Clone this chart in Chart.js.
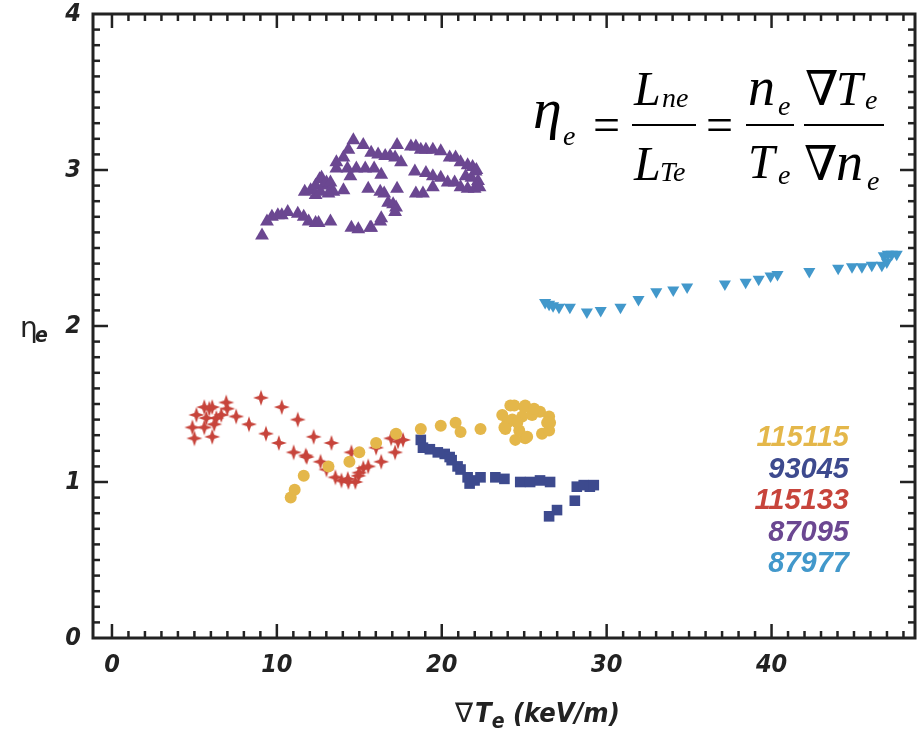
<!DOCTYPE html>
<html>
<head>
<meta charset="utf-8">
<script src="https://cdn.jsdelivr.net/npm/chart.js@4.4.1/dist/chart.umd.min.js"></script>
<style>
  html, body { margin: 0; padding: 0; background: #fff; }
  #wrap { width: 923px; height: 731px; }
</style>
</head>
<body>
<div id="wrap"><canvas id="etaChart"></canvas></div>
<script>
const xTicks = [0, 10, 20, 30, 40];
const yTicks = [0, 1, 2, 3, 4];
const shots = ['115115', '93045', '115133', '87095', '87977'];
const shotColors = ['#E4B74A', '#3D4A8E', '#C7443B', '#6B4791', '#4298CB'];

// [grad Te (keV/m), eta_e]
const shot115115 = [
    [10.84, 0.90], [11.08, 0.95], [11.63, 1.04], [13.13, 1.10], [14.40, 1.13], [15.00, 1.19],
    [16.02, 1.25], [17.23, 1.31], [18.73, 1.34], [19.94, 1.36], [20.84, 1.38], [21.14, 1.32],
    [22.35, 1.34], [23.67, 1.43], [24.16, 1.49], [25.06, 1.49], [25.96, 1.45], [26.51, 1.42],
    [26.57, 1.38], [26.08, 1.31], [25.06, 1.28], [24.46, 1.27], [23.86, 1.34], [24.28, 1.40],
    [24.88, 1.42], [25.48, 1.43], [23.98, 1.38], [24.70, 1.33], [26.51, 1.33], [24.40, 1.49],
    [25.00, 1.48], [25.60, 1.47], [26.39, 1.38], [25.18, 1.29], [23.80, 1.35], [24.58, 1.38]
];
const shot93045 = [
    [18.73, 1.27], [18.86, 1.22], [19.28, 1.21], [19.76, 1.19], [20.18, 1.18], [20.48, 1.16],
    [20.60, 1.14], [20.96, 1.10], [21.14, 1.08], [21.57, 1.03], [21.69, 0.99], [21.99, 1.01],
    [22.35, 1.03], [23.25, 1.03], [23.80, 1.02], [24.76, 1.00], [25.36, 1.00], [25.96, 1.01],
    [26.57, 1.00], [28.19, 0.97], [28.61, 0.98], [28.98, 0.97], [29.22, 0.98], [28.07, 0.88],
    [26.99, 0.82], [26.51, 0.78]
];
const shot115133 = [
    [5.00, 1.28], [4.88, 1.35], [5.12, 1.43], [5.60, 1.48], [5.90, 1.47], [6.08, 1.48],
    [6.93, 1.51], [6.99, 1.47], [6.63, 1.43], [6.33, 1.41], [5.72, 1.41], [5.60, 1.35],
    [6.08, 1.29], [6.20, 1.37], [7.53, 1.42], [8.31, 1.37], [9.04, 1.54], [9.34, 1.31],
    [10.12, 1.25], [10.30, 1.48], [11.02, 1.19], [11.27, 1.40], [11.75, 1.17], [12.23, 1.29],
    [11.81, 1.16], [12.65, 1.13], [13.31, 1.25], [13.01, 1.08], [13.55, 1.03], [13.92, 1.01],
    [14.34, 1.00], [14.76, 1.00], [14.52, 1.19], [14.94, 1.04], [15.24, 1.09], [15.54, 1.10],
    [16.02, 1.22], [16.33, 1.13], [16.93, 1.28], [17.35, 1.26], [17.17, 1.19], [17.65, 1.27],
    [14.30, 1.02], [15.00, 1.06]
];
const shot87095 = [
    [9.10, 2.58], [9.40, 2.67], [9.70, 2.70], [10.06, 2.71], [10.30, 2.71], [10.66, 2.73],
    [11.27, 2.72], [11.63, 2.70], [11.93, 2.67], [12.35, 2.66], [12.53, 2.66], [13.25, 2.67],
    [14.52, 2.63], [14.94, 2.62], [15.66, 2.63], [11.69, 2.86], [12.05, 2.87], [12.35, 2.90],
    [12.59, 2.94], [12.71, 2.95], [12.83, 2.90], [13.01, 2.92], [13.25, 2.92], [13.31, 2.87],
    [13.43, 2.86], [13.13, 2.85], [12.35, 2.84], [14.04, 2.87], [12.65, 2.86], [13.61, 3.01],
    [13.61, 3.05], [14.04, 3.08], [14.34, 3.13], [14.64, 3.19], [15.24, 3.16], [14.28, 3.01],
    [14.46, 2.96], [14.82, 3.01], [15.36, 3.01], [15.54, 2.88], [15.72, 3.11], [16.14, 3.10],
    [16.57, 3.09], [16.87, 3.09], [17.17, 3.08], [17.29, 3.16], [17.53, 3.05], [18.13, 3.15],
    [18.43, 3.15], [18.73, 3.13], [19.04, 3.13], [19.46, 3.13], [19.94, 3.12], [15.90, 3.01],
    [16.33, 2.97], [16.27, 2.86], [16.51, 2.85], [17.29, 2.88], [18.37, 2.99], [19.04, 2.98],
    [19.46, 2.96], [19.94, 2.95], [20.48, 3.08], [20.84, 3.08], [21.14, 3.05], [21.57, 3.03],
    [21.87, 3.02], [22.05, 2.99], [20.36, 2.92], [20.78, 2.92], [21.14, 2.89], [21.57, 2.88],
    [21.99, 2.88], [22.29, 2.89], [21.45, 2.96], [18.43, 2.85], [18.86, 2.85], [19.46, 2.89],
    [16.75, 2.79], [17.05, 2.78], [17.23, 2.76], [17.17, 2.73], [16.33, 2.69], [16.27, 2.67],
    [15.72, 2.63], [22.20, 2.93], [21.80, 2.95], [22.10, 3.00]
];
const shot87977 = [
    [26.27, 2.15], [26.51, 2.14], [26.75, 2.13], [27.11, 2.12], [27.77, 2.12], [28.80, 2.09],
    [29.64, 2.10], [30.84, 2.12], [31.93, 2.17], [33.01, 2.22], [34.04, 2.23], [34.88, 2.25],
    [37.17, 2.27], [38.43, 2.28], [39.22, 2.30], [39.94, 2.32], [40.36, 2.33], [42.29, 2.35],
    [44.04, 2.37], [44.88, 2.38], [45.48, 2.38], [46.08, 2.39], [46.69, 2.39], [46.81, 2.45],
    [46.99, 2.41], [47.05, 2.46], [47.29, 2.46], [47.59, 2.46]
];

const AXIS_FONT = "'Liberation Sans Narrow', 'DejaVu Sans Condensed', sans-serif";
const SERIF = "'Liberation Serif', 'DejaVu Serif', serif";
const INK = '#222';

function toPts(arr) {
    return arr.map(p => ({ x: p[0], y: p[1] }));
}

// 4-point star marker
function starMarker(color, r) {
    const c = document.createElement('canvas');
    const s = r * 2 + 2;
    c.width = s; c.height = s;
    const g = c.getContext('2d');
    const m = s / 2;
    g.beginPath();
    for (let i = 0; i < 8; i++) {
        const a = i * Math.PI / 4 - Math.PI / 2;
        const rr = i % 2 ? r * 0.36 : r;
        g.lineTo(m + rr * Math.cos(a), m + rr * Math.sin(a));
    }
    g.closePath();
    g.fillStyle = color;
    g.fill();
    return c;
}

// fixed axis boxes so the plot area matches the figure
function fixBox(size, horizontal) {
    return s => {
        if (horizontal) s.height = size; else s.width = size;
        s.paddingTop = 0; s.paddingBottom = 0;
        s.paddingLeft = 0; s.paddingRight = 0;
    };
}

// box frame with inward ticks on all four sides
const framePlugin = {
    id: 'frame',
    afterDatasetsDraw(chart) {
        const { ctx, chartArea: a, scales: { x, y } } = chart;
        ctx.save();
        ctx.strokeStyle = INK;
        ctx.lineCap = 'butt';
        const line = (x1, y1, x2, y2) => {
            ctx.beginPath(); ctx.moveTo(x1, y1); ctx.lineTo(x2, y2); ctx.stroke();
        };
        ctx.lineWidth = 2.5;
        for (let v = Math.ceil(x.min); v <= x.max; v++) {
            const px = x.getPixelForValue(v);
            if (px - a.left < 4 || a.right - px < 4) continue;
            const L = v % 10 === 0 ? 14 : 7;
            line(px, a.bottom, px, a.bottom - L);
            line(px, a.top, px, a.top + L);
        }
        for (let i = 1; i < 40; i++) {
            const py = y.getPixelForValue(i / 10);
            const L = i % 10 === 0 ? 15 : 7;
            line(a.left, py, a.left + L, py);
            line(a.right, py, a.right - L, py);
        }
        ctx.lineWidth = 3;
        ctx.strokeRect(a.left, a.top, a.right - a.left, a.bottom - a.top);
        ctx.restore();
    }
};

// axis titles, shot labels and the eta_e definition
const textPlugin = {
    id: 'texts',
    afterDraw(chart) {
        const { ctx } = chart;
        ctx.save();
        ctx.fillStyle = INK;
        ctx.textBaseline = 'alphabetic';
        ctx.textAlign = 'left';

        // x title
        let cx = 455;
        ctx.font = "27px 'DejaVu Sans', sans-serif";
        ctx.fillText('\u2207', cx, 722);
        cx += ctx.measureText('\u2207').width + 2;
        ctx.font = `italic bold 27px ${AXIS_FONT}`;
        ctx.fillText('T', cx, 722);
        cx += ctx.measureText('T').width;
        ctx.font = `italic bold 21px ${AXIS_FONT}`;
        ctx.fillText('e', cx, 728);
        cx += ctx.measureText('e').width;
        ctx.font = `italic bold 27px ${AXIS_FONT}`;
        ctx.fillText(' (keV/m)', cx, 722);

        // y title
        ctx.font = "28px 'DejaVu Sans', sans-serif";
        ctx.fillText('\u03b7', 20, 337);
        ctx.font = `italic bold 21px ${AXIS_FONT}`;
        ctx.fillText('e', 35, 342);

        // shot labels
        ctx.textAlign = 'right';
        ctx.font = "italic bold 29px 'Liberation Sans', Arial, sans-serif";
        chart.data.datasets.forEach((ds, i) => {
            ctx.fillStyle = ds.backgroundColor;
            ctx.fillText(ds.label, 849, 446 + i * 31.5);
        });

        // formula
        ctx.fillStyle = '#000';
        ctx.textAlign = 'left';
        const it = (s, size, px, py) => {
            ctx.font = `italic ${size}px ${SERIF}`;
            ctx.fillText(s, px, py);
        };
        const up = (s, size, px, py) => {
            ctx.font = `${size}px ${SERIF}`;
            ctx.fillText(s, px, py);
        };
        it('\u03b7', 58, 533, 128);
        it('e', 28, 563, 145);
        up('=', 48, 593, 141);
        ctx.fillRect(632, 124, 64, 2);
        it('L', 48, 634, 105);
        it('ne', 28, 662, 107);
        it('L', 48, 634, 180);
        it('Te', 28, 660, 181);
        up('=', 48, 706, 141);
        ctx.fillRect(746, 124, 48, 2);
        it('n', 54, 748, 105);
        it('e', 28, 778, 115);
        it('T', 48, 748, 178);
        it('e', 28, 778, 184);
        ctx.fillRect(804, 124, 80, 2);
        up('\u2207', 48, 805, 105);
        it('T', 48, 836, 105);
        it('e', 28, 865, 109);
        up('\u2207', 48, 804, 180);
        it('n', 54, 836, 180);
        it('e', 28, 867, 190);
        ctx.restore();
    }
};

const markers = [
    { pointStyle: 'circle', pointRadius: 6, rotation: 0 },
    { pointStyle: 'rect', pointRadius: 7.5, rotation: 0 },
    { pointStyle: starMarker(shotColors[2], 8), pointRadius: 8, rotation: 0 },
    { pointStyle: 'triangle', pointRadius: 8, rotation: 0 },
    { pointStyle: 'triangle', pointRadius: 7, rotation: 180 }
];
const seriesData = [shot115115, shot93045, shot115133, shot87095, shot87977];

const datasets = shots.map((name, i) => ({
    label: name,
    data: toPts(seriesData[i]),
    backgroundColor: shotColors[i],
    borderColor: shotColors[i],
    borderWidth: 0,
    pointStyle: markers[i].pointStyle,
    pointRadius: markers[i].pointRadius,
    pointRotation: markers[i].rotation,
    showLine: false
}));

const tickFont = { family: AXIS_FONT, size: 25, style: 'italic', weight: 'bold' };

new Chart(document.getElementById('etaChart'), {
    type: 'scatter',
    data: { datasets },
    options: {
        responsive: true,
        maintainAspectRatio: false,
        animation: false,
        layout: { padding: { top: 14, right: 3, left: 0, bottom: 0 } },
        plugins: {
            legend: { display: false },
            tooltip: { enabled: false }
        },
        scales: {
            x: {
                type: 'linear',
                min: -1.15,
                max: 48.7,
                afterBuildTicks: s => { s.ticks = xTicks.map(v => ({ value: v })); },
                afterFit: fixBox(93, true),
                grid: { display: false, drawTicks: false },
                border: { display: false },
                ticks: { font: tickFont, color: INK, padding: 12, maxRotation: 0 }
            },
            y: {
                type: 'linear',
                min: 0,
                max: 4,
                afterBuildTicks: s => { s.ticks = yTicks.map(v => ({ value: v })); },
                afterFit: fixBox(93, false),
                grid: { display: false, drawTicks: false },
                border: { display: false },
                ticks: { font: tickFont, color: INK, padding: 12 }
            }
        }
    },
    plugins: [framePlugin, textPlugin]
});
</script>
</body>
</html>
